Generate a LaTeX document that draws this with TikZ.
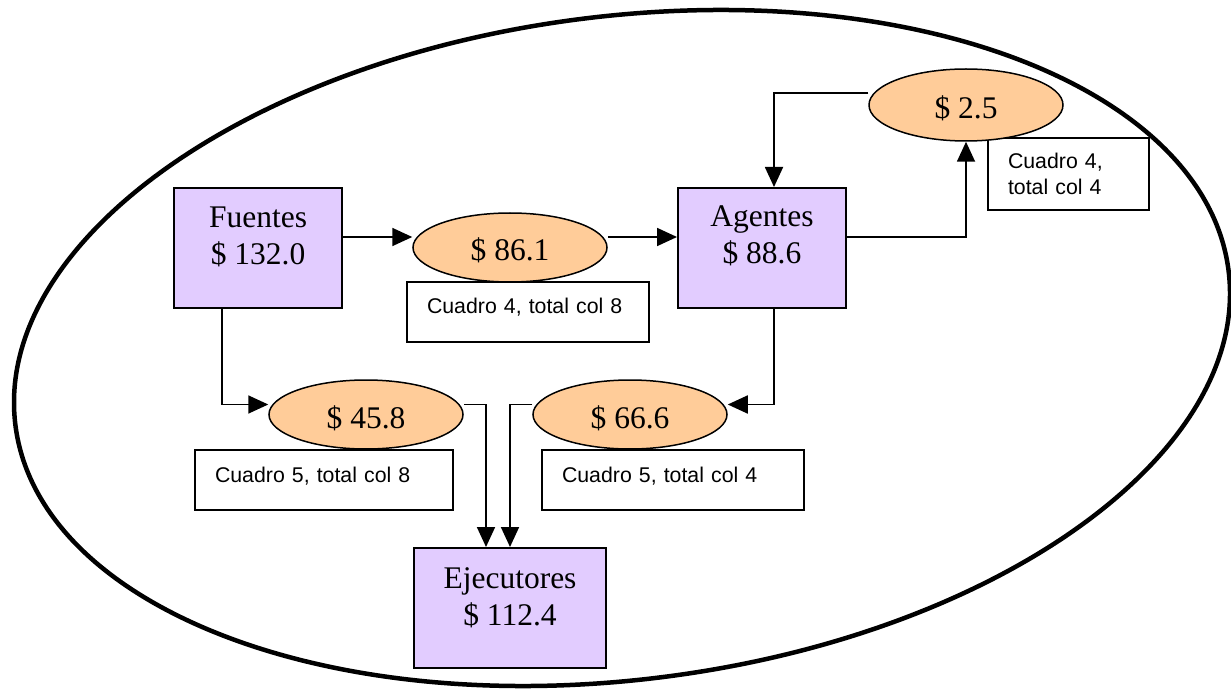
\documentclass[tikz,border=0pt]{standalone}
\usepackage{fontspec}
\setmainfont{Liberation Serif}
\newfontfamily\notefont{Liberation Sans}
\usetikzlibrary{shapes.geometric,arrows.meta,calc}
\definecolor{lav}{RGB}{226,204,255}
\definecolor{peach}{RGB}{255,204,153}
\pgfdeclarelayer{bg}
\pgfsetlayers{bg,main}
\tikzset{
  mainbox/.style={draw, line width=2pt, fill=lav, minimum height=120pt, inner sep=0pt},
  boxtext/.style={align=center, inner sep=0pt, anchor=north, font=\fontsize{31.5}{37}\selectfont},
  val/.style={ellipse, draw, line width=1.5pt, fill=peach, minimum width=194pt, minimum height=69pt,
    inner sep=0pt, font=\fontsize{31.5}{37}\selectfont, text height=27pt, text depth=0pt},
  note/.style={draw, line width=2pt, fill=white, inner xsep=20pt, inner ysep=0pt, align=left,
    font=\notefont\fontsize{21.3}{26}\selectfont},
  conn/.style={line width=1.8pt, -{Triangle[length=20pt,width=18pt]}},
}
\begin{document}
\begin{tikzpicture}[x=1pt,y=1pt]
\useasboundingbox (0,0) rectangle (1231,-692);
% outer ellipse
\begin{pgfonlayer}{bg}
\draw[line width=4.5pt, rotate around={7.3:(622,-348)}] (622,-348) ellipse [x radius=611.5pt, y radius=331.6pt];
\end{pgfonlayer}

% main boxes
\node[mainbox, minimum width=168pt] (fu) at (258,-248) {};
\node[mainbox, minimum width=168pt] (ag) at (762,-248) {};
\node[mainbox, minimum width=192pt] (ej) at (510,-608) {};
\node[boxtext] (fu-t) at ([yshift=-20pt]fu.north) {Fuentes\\\$ 132.0};
\node[boxtext] (ag-t) at ([yshift=-19pt]ag.north) {Agentes\\\$ 88.6};
\node[boxtext] (ej-t) at ([yshift=-20pt]ej.north) {Ejecutores\\\$ 112.4};

% note boxes
\node[note, text width=202pt, minimum height=60pt, text height=11pt, text depth=7pt] (n1) at (528,-312) {Cuadro 4, total col 8};
\node[note, text width=121pt, minimum height=72pt] (n2) at (1068.5,-174) {Cuadro 4,\\total col 4};
\node[note, text width=218pt, minimum height=60pt, text height=11pt, text depth=7pt] (n3) at (324,-480) {Cuadro 5, total col 8};
\node[note, text width=222pt, minimum height=60pt, text height=11pt, text depth=7pt] (n4) at (673,-480) {Cuadro 5, total col 4};

% value ellipses
\node[val] (e1) at (510,-247.5) {\$ 86.1};
\node[val, minimum height=72pt] (e2) at (966,-105) {\$ 2.5};
\node[val] (e3) at (366,-414.5) {\$ 45.8};
\node[val] (e4) at (630,-414.5) {\$ 66.6};

% connectors
\begin{pgfonlayer}{bg}
\draw[conn] ([yshift=11pt]fu.east) -- ([yshift=11pt]fu.east -| e1.west);
\draw[conn] ([yshift=11pt]ag.west -| e1.east) -- ([yshift=11pt]ag.west);
\draw[conn] ([yshift=11pt]ag.east) -| (e2.south);
\draw[conn] ([yshift=12pt]e2.west) -| ([xshift=12pt]ag.north);
\draw[conn] ([xshift=-36pt]fu.south) |- ([yshift=10pt]e3.west);
\draw[conn] ([xshift=12pt]ag.south) |- ([yshift=10pt]e4.east);
\draw[conn] ([yshift=10pt]e3.east) -| ([xshift=-24pt]ej.north);
\draw[conn] ([yshift=10pt]e4.west) -| (ej.north);
\end{pgfonlayer}
\end{tikzpicture}
\end{document}
